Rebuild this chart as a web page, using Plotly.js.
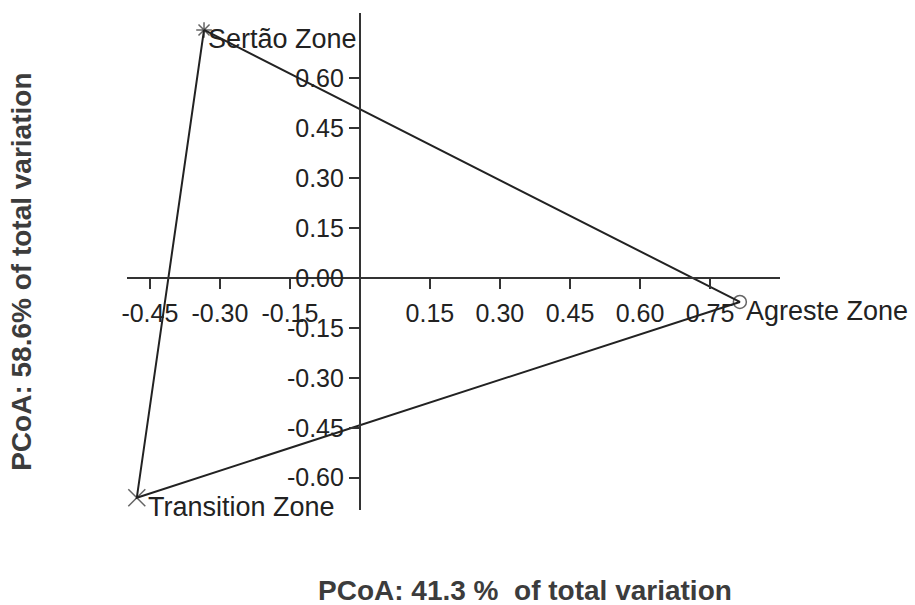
<!DOCTYPE html>
<html><head><meta charset="utf-8">
<script src="https://cdn.plot.ly/plotly-3.0.1.min.js"></script>
<style>html,body{margin:0;padding:0;background:#fff}</style>
</head><body><div id="chart" style="width:915px;height:605px"></div>
<script>
const zones = ["Sertão Zone", "Agreste Zone", "Transition Zone"];
const pcoa1 = [-0.334, 0.814, -0.478];
const pcoa2 = [0.745, -0.072, -0.660];
const symbols = ["asterisk-open", "circle-open", "x-thin-open"];
const xTicks = [-0.45, -0.30, -0.15, 0.15, 0.30, 0.45, 0.60, 0.75];
const yTicks = [-0.60, -0.45, -0.30, -0.15, 0.00, 0.15, 0.30, 0.45, 0.60];
const xTitle = "PCoA: 41.3 %  of total variation";
const yTitle = "PCoA: 58.6% of total variation";

const xRange = [-0.499, 0.90];
const yRange = [-0.697, 0.796];
const ink = "#222";
const family = "Liberation Sans, Arial, sans-serif";
const tickFont = {family: family, size: 25, color: ink};
const labelFont = {family: family, size: 27, color: ink};
const titleFont = {family: family, size: 28, color: "#3c3c3c", weight: "bold"};

const lineTrace = {
  x: pcoa1.concat([pcoa1[0]]),
  y: pcoa2.concat([pcoa2[0]]),
  mode: "lines", line: {color: ink, width: 2}, hoverinfo: "skip"
};
const markerTrace = {
  x: pcoa1, y: pcoa2, mode: "markers",
  marker: {symbol: symbols, size: [13, 13, 17], color: ink, line: {color: ink, width: 1.5}}
};
const labelShift = [2, 4, 9];
const annotations = zones.map((z, i) => ({
  x: pcoa1[i], y: pcoa2[i], xref: "x", yref: "y", text: z, showarrow: false,
  xanchor: "left", yanchor: "middle", xshift: labelShift[i], yshift: -9, font: labelFont
}));
annotations.push({text: xTitle, xref: "paper", yref: "paper", x: 0.609, y: -0.161,
  showarrow: false, xanchor: "center", yanchor: "middle", font: titleFont});
annotations.push({text: yTitle, xref: "paper", yref: "paper", x: -0.161, y: 0.479,
  showarrow: false, xanchor: "center", yanchor: "middle", textangle: -90, font: titleFont});

const layout = {
  width: 915, height: 605,
  margin: {l: 127, r: 135, t: 13, b: 95},
  paper_bgcolor: "#fff", plot_bgcolor: "#fff",
  showlegend: false,
  xaxis: {range: xRange, anchor: "free", position: (0 - yRange[0]) / (yRange[1] - yRange[0]),
    showgrid: false, zeroline: false, showline: true, linecolor: "#333", linewidth: 2,
    ticks: "outside", ticklen: 10, tickwidth: 2, tickcolor: "#333", ticklabelstandoff: 3,
    tickvals: xTicks, ticktext: xTicks.map(v => v.toFixed(2)), tickfont: tickFont},
  yaxis: {range: yRange, anchor: "free", position: (0 - xRange[0]) / (xRange[1] - xRange[0]),
    showgrid: false, zeroline: false, showline: true, linecolor: "#333", linewidth: 2,
    ticks: "outside", ticklen: 10, tickwidth: 2, tickcolor: "#333",
    tickvals: yTicks, ticktext: yTicks.map(v => v.toFixed(2)), tickfont: tickFont},
  annotations: annotations
};
Plotly.newPlot("chart", [lineTrace, markerTrace], layout, {displayModeBar: false, staticPlot: true});
</script></body></html>
